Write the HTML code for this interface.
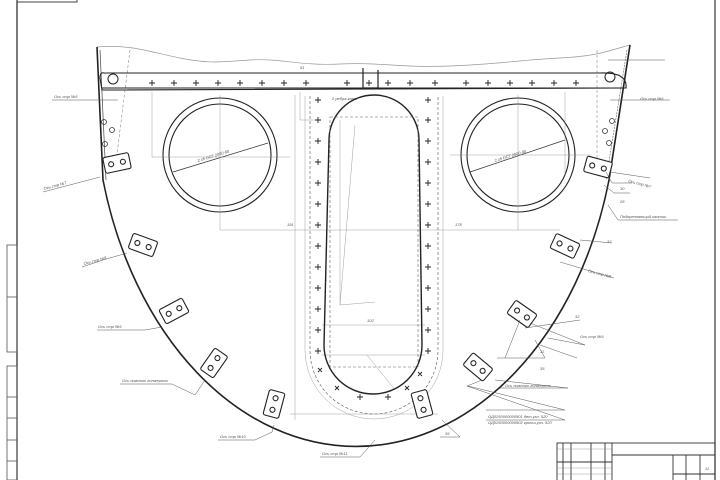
<!DOCTYPE html>
<html><head><meta charset="utf-8"><style>
html,body{margin:0;padding:0;background:#fff;}
svg{display:block;}
text{font-family:"Liberation Sans",sans-serif;font-style:italic;fill:#555;font-size:4px;}
</style></head><body>
<svg width="720" height="480" viewBox="0 0 720 480" xmlns="http://www.w3.org/2000/svg">
<rect width="720" height="480" fill="#fff"/>
<!-- frame -->
<line x1="17" y1="0" x2="17" y2="480" stroke="#333" stroke-width="1.3"/>
<line x1="715" y1="0" x2="715" y2="480" stroke="#444" stroke-width="1.3"/>
<rect x="17" y="-2" width="60" height="4" fill="none" stroke="#444" stroke-width="1"/>
<!-- left sidebar -->
<g fill="none" stroke="#555" stroke-width="0.8">
<rect x="7" y="245" width="10" height="107"/><line x1="7" y1="297" x2="17" y2="297"/>
<rect x="7" y="366" width="10" height="114"/>
<line x1="7" y1="397" x2="17" y2="397"/><line x1="7" y1="418" x2="17" y2="418"/><line x1="7" y1="440" x2="17" y2="440"/><line x1="7" y1="461" x2="17" y2="461"/>
</g>
<!-- title block -->
<g fill="none" stroke="#333" stroke-width="0.9">
<rect x="557" y="443" width="158" height="40"/>
<line x1="612" y1="455" x2="715" y2="455"/>
<line x1="557" y1="462" x2="612" y2="462"/>
<line x1="563" y1="443" x2="563" y2="480"/><line x1="571" y1="443" x2="571" y2="480"/>
<line x1="591" y1="443" x2="591" y2="480"/><line x1="605" y1="443" x2="605" y2="480"/><line x1="612" y1="443" x2="612" y2="480"/>
<line x1="673" y1="455" x2="673" y2="480"/><line x1="686" y1="455" x2="686" y2="480"/><line x1="700" y1="455" x2="700" y2="480"/>
<line x1="673" y1="474" x2="715" y2="474"/>
</g>
<g stroke="#888" stroke-width="0.4"><line x1="557" y1="449" x2="612" y2="449"/><line x1="557" y1="468" x2="612" y2="468"/><line x1="557" y1="474" x2="612" y2="474"/></g>
<text x="705" y="470">11</text>
<!-- top wavy break -->
<path d="M97,47 C130,44 150,52 180,58 S220,62 250,60 S300,66 340,64 S400,68 450,66 S520,60 560,58 S610,50 630,45" fill="none" stroke="#999" stroke-width="0.7"/>
<!-- outline -->
<path d="M97,47 L103,180 A262 360 0 0 0 609,180 L630,45" fill="none" stroke="#222" stroke-width="1.6"/>
<path d="M100,50 L106,180" stroke="#444" stroke-width="0.7"/>
<path d="M627,50 L606,180" stroke="#666" stroke-width="0.6" stroke-dasharray="2,1"/>
<path d="M130,50 L115,170" stroke="#777" stroke-width="0.5" stroke-dasharray="3,2"/>
<path d="M597,50 L597,170" stroke="#777" stroke-width="0.5" stroke-dasharray="3,2"/>
<!-- horizontal bar -->
<path d="M104,73 L600,73 Q628,72 626,88 L102,90 L100,78 Q100,72 104,73 Z" fill="none" stroke="#222" stroke-width="1.1"/>
<line x1="102" y1="88" x2="626" y2="88" stroke="#222" stroke-width="1"/>
<circle cx="113" cy="79" r="5" fill="none" stroke="#222" stroke-width="1"/>
<circle cx="610" cy="77" r="5" fill="none" stroke="#222" stroke-width="1"/>
<g stroke="#222" stroke-width="0.9" id="crosses">
<path d="M149,83h6M152,80v6 M171,83h6M174,80v6 M193,83h6M196,80v6 M215,83h6M218,80v6 M237,83h6M240,80v6 M259,83h6M262,80v6 M281,83h6M284,80v6 M303,83h6M306,80v6 M344,83h6M347,80v6 M366,83h6M369,80v6 M385,83h6M388,80v6 M407,83h6M410,80v6 M432,83h6M435,80v6 M463,83h6M466,80v6 M485,83h6M488,80v6 M507,83h6M510,80v6 M529,83h6M532,80v6 M551,83h6M554,80v6 M573,83h6M576,80v6"/>
</g>
<path d="M363,68 L363,88 L378,88 L378,70" fill="none" stroke="#222" stroke-width="1.2"/>
<!-- big circles -->
<g fill="none" stroke="#222" stroke-width="1.1">
<circle cx="220" cy="155" r="57"/><circle cx="220" cy="155" r="51"/>
<circle cx="518" cy="155" r="57"/><circle cx="518" cy="155" r="51"/>
</g>
<line x1="173" y1="172" x2="268" y2="143" stroke="#333" stroke-width="0.7"/>
<line x1="470" y1="172" x2="565" y2="140" stroke="#333" stroke-width="0.7"/>
<g stroke="#888" stroke-width="0.4">
<line x1="220" y1="95" x2="220" y2="230"/><line x1="152" y1="157" x2="290" y2="157"/>
<line x1="518" y1="95" x2="518" y2="230"/><line x1="450" y1="155" x2="590" y2="155"/>
<line x1="152" y1="92" x2="152" y2="157"/><line x1="220" y1="230" x2="560" y2="230"/>
<line x1="295" y1="95" x2="295" y2="420"/><line x1="290" y1="414" x2="438" y2="414"/>
<line x1="300" y1="92" x2="300" y2="120"/><line x1="300" y1="120" x2="318" y2="120"/>
<line x1="565" y1="92" x2="565" y2="175"/>
<line x1="340" y1="120" x2="340" y2="305"/><line x1="340" y1="305" x2="375" y2="302"/><line x1="355" y1="125" x2="340" y2="305"/>
<line x1="322" y1="325" x2="425" y2="325"/><line x1="322" y1="355" x2="425" y2="355"/>
<line x1="367" y1="355" x2="395" y2="390"/>
</g>
<text x="198" y="162" transform="rotate(-17 198 162)">2 гб ОСТ 2000-80</text>
<text x="495" y="162" transform="rotate(-17 495 162)">2 гб ОСТ 2000-80</text>
<text x="287" y="226">191</text><text x="455" y="226">178</text><text x="367" y="322">102</text>
<text x="332" y="100">2 ребра кант</text><text x="300" y="69">61</text>
<!-- central slot -->
<path d="M329,140 A45 45 0 0 1 419,140 L422,345 A49 49 0 0 1 324,345 Z" fill="none" stroke="#222" stroke-width="1.4"/>
<path d="M310,96 L310,350 A64 64 0 0 0 438,350 L438,96" fill="none" stroke="#555" stroke-width="0.6" stroke-dasharray="3,2"/>
<path d="M305,96 L305,350 A69 69 0 0 0 443,350 L443,96" fill="none" stroke="#888" stroke-width="0.4"/>
<rect x="330" y="117" width="88" height="250" fill="none" stroke="#666" stroke-width="0.6" stroke-dasharray="3,2"/>
<g stroke="#222" stroke-width="0.9">
<path d="M315,100h6M318,97v6 M315,120h6M318,117v6 M315,141h6M318,138v6 M315,162h6M318,159v6 M315,183h6M318,180v6 M315,204h6M318,201v6 M315,225h6M318,222v6 M315,246h6M318,243v6 M315,267h6M318,264v6 M315,288h6M318,285v6 M315,309h6M318,306v6 M315,330h6M318,327v6 M315,351h6M318,348v6"/>
<path d="M425,100h6M428,97v6 M425,120h6M428,117v6 M425,141h6M428,138v6 M425,162h6M428,159v6 M425,183h6M428,180v6 M425,204h6M428,201v6 M425,225h6M428,222v6 M425,246h6M428,243v6 M425,267h6M428,264v6 M425,288h6M428,285v6 M425,309h6M428,306v6 M425,330h6M428,327v6 M425,351h6M428,348v6"/>
<path d="M318,368l4,4m0,-4l-4,4 M335,386l4,4m0,-4l-4,4 M357,397h6M360,394v6 M385,397h6M388,394v6 M405,386l4,4m0,-4l-4,4 M418,372l4,4m0,-4l-4,4"/>
</g>
<!-- brackets -->
<g fill="#fff" stroke="#222" stroke-width="1.1">
<g transform="translate(117,163) rotate(-12)"><rect x="-13" y="-8" width="26" height="16" rx="2"/><circle cx="-6" cy="0" r="2.5"/><circle cx="6" cy="0" r="2.5"/></g>
<g transform="translate(143,245) rotate(20)"><rect x="-13" y="-8" width="26" height="16" rx="2"/><circle cx="-6" cy="0" r="2.5"/><circle cx="6" cy="0" r="2.5"/></g>
<g transform="translate(174,311) rotate(-28)"><rect x="-13" y="-8" width="26" height="16" rx="2"/><circle cx="-6" cy="0" r="2.5"/><circle cx="6" cy="0" r="2.5"/></g>
<g transform="translate(214,363) rotate(-55)"><rect x="-13" y="-8" width="26" height="16" rx="2"/><circle cx="-6" cy="0" r="2.5"/><circle cx="6" cy="0" r="2.5"/></g>
<g transform="translate(274,404) rotate(-75)"><rect x="-13" y="-8" width="26" height="16" rx="2"/><circle cx="-6" cy="0" r="2.5"/><circle cx="6" cy="0" r="2.5"/></g>
<g transform="translate(422,404) rotate(75)"><rect x="-13" y="-8" width="26" height="16" rx="2"/><circle cx="-6" cy="0" r="2.5"/><circle cx="6" cy="0" r="2.5"/></g>
<g transform="translate(478,367) rotate(40)"><rect x="-13" y="-8" width="26" height="16" rx="2"/><circle cx="-6" cy="0" r="2.5"/><circle cx="6" cy="0" r="2.5"/></g>
<g transform="translate(522,314) rotate(35)"><rect x="-13" y="-8" width="26" height="16" rx="2"/><circle cx="-6" cy="0" r="2.5"/><circle cx="6" cy="0" r="2.5"/></g>
<g transform="translate(565,246) rotate(25)"><rect x="-13" y="-8" width="26" height="16" rx="2"/><circle cx="-6" cy="0" r="2.5"/><circle cx="6" cy="0" r="2.5"/></g>
<g transform="translate(598,167) rotate(15)"><rect x="-13" y="-8" width="26" height="16" rx="2"/><circle cx="-6" cy="0" r="2.5"/><circle cx="6" cy="0" r="2.5"/></g>
</g>
<g fill="none" stroke="#333" stroke-width="0.8">
<circle cx="104" cy="122" r="2.5"/><circle cx="112" cy="130" r="2.5"/><circle cx="105" cy="144" r="2.5"/>
<circle cx="612" cy="121" r="2.5"/><circle cx="605" cy="131" r="2.5"/><circle cx="609" cy="143" r="2.5"/>
</g>
<!-- leaders -->
<g stroke="#555" stroke-width="0.5" fill="none">
<path d="M52,100 L118,100"/><path d="M43,192 L100,177"/><path d="M82,267 L103,260 L127,253"/>
<path d="M97,330 L145,330 L162,327"/><path d="M120,384 L172,384 L195,395 L205,380"/>
<path d="M218,440 L255,440 L272,432 L274,425"/>
<path d="M320,457 L360,457 L375,440"/>
<path d="M440,437 L460,437 L442,420"/><path d="M486,420 L565,420 L467,386 L482,380"/>
<path d="M486,410 L565,410 L468,386"/><path d="M500,388 L568,388 L495,380"/>
<path d="M497,358 L545,358 L535,340 M505,358 L520,320"/>
<path d="M525,328 L580,320 M548,338 L585,345 L530,323 M540,345 L577,358"/>
<path d="M580,240 L612,243 M560,262 L614,278"/><path d="M606,172 L612,183 L632,183"/>
<path d="M604,185 L614,193 L630,193"/><path d="M608,205 L618,220 L678,220"/>
<path d="M610,172 L650,178"/><path d="M608,60 L665,60 M610,100 L670,100"/>
</g>
<text x="54" y="98">Ось стр №6</text><text x="44" y="190" transform="rotate(-15 44 190)">Ось стр №7</text>
<text x="84" y="265" transform="rotate(-15 84 265)">Ось стр №8</text><text x="98" y="328">Ось стр №9</text>
<text x="122" y="382">Ось ножного лонжерона</text><text x="220" y="438">Ось стр №10</text>
<text x="322" y="455">Ось стр №11</text><text x="445" y="435">39</text>
<text x="488" y="418">ОД5250000000901 дет.узл. 520</text><text x="488" y="424">ОД5250000000902 кронш.узл. 520</text>
<text x="505" y="387">Ось ножного лонжерона</text><text x="540" y="370">35</text><text x="540" y="353">11</text>
<text x="575" y="318">32</text><text x="580" y="338">Ось стр №9</text><text x="607" y="243">32</text>
<text x="588" y="272" transform="rotate(15 588 272)">Ось стр №8</text>
<text x="620" y="203">28</text><text x="620" y="190">30</text><text x="620" y="218">Подкрепляющий кантик</text>
<text x="628" y="182" transform="rotate(15 628 182)">Ось стр №7</text><text x="640" y="100">Ось стр №6</text>
</svg>
</body></html>
